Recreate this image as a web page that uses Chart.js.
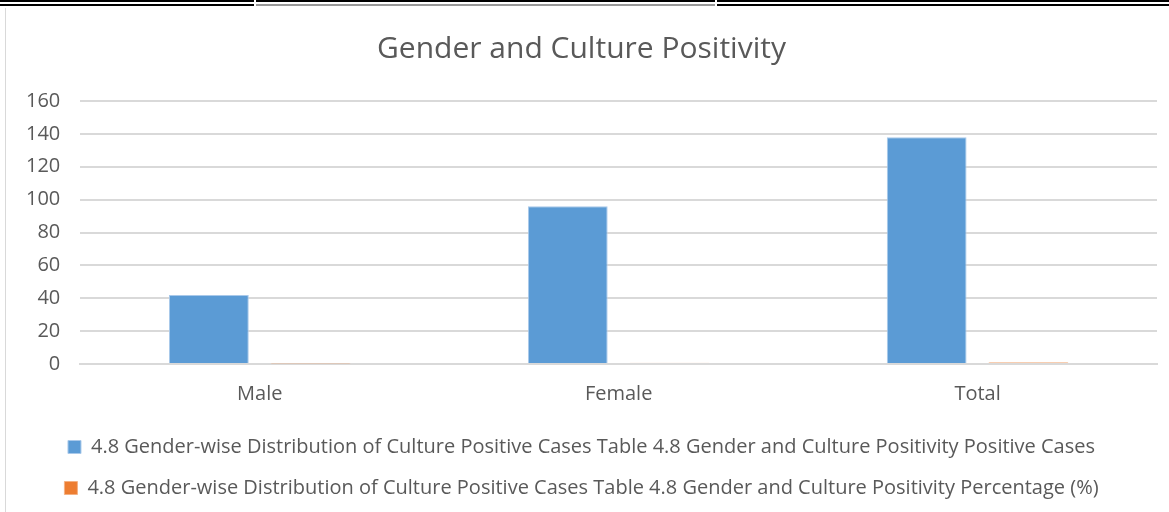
<!DOCTYPE html>
<html>
<head>
<meta charset="utf-8">
<script src="https://cdn.jsdelivr.net/npm/chart.js@4/dist/chart.umd.min.js"></script>
<style>
  html, body { margin: 0; padding: 0; background: #fff; }
  #wrap { position: relative; width: 1169px; height: 512px; overflow: hidden; }
  /* table rules above the chart */
  .rule { position: absolute; height: 2px; background: #000; }
  #leftEdge { position: absolute; left: 5px; top: 8px; width: 1px; height: 504px; background: #d9d9d9; }
  #chartBox { position: absolute; left: 0; top: 0; width: 1169px; height: 512px; }
</style>
</head>
<body>
<div id="wrap">
  <div class="rule" style="left:0;top:0;width:254px"></div>
  <div class="rule" style="left:256px;top:0;width:459px"></div>
  <div class="rule" style="left:717px;top:0;width:452px"></div>
  <div class="rule" style="left:0;top:4px;width:254px"></div>
  <div class="rule" style="left:256px;top:4px;width:459px;background:#999"></div>
  <div class="rule" style="left:717px;top:4px;width:452px"></div>
  <div id="leftEdge"></div>
  <div id="chartBox"><canvas id="genderChart"></canvas></div>
</div>
<script>
// Dados da tabela 4.8
const categories = ['Male', 'Female', 'Total'];
const positiveCases = [42, 96, 138];
const percentage = [0.30, 0.70, 1.00];
const yTicks = [0, 20, 40, 60, 80, 100, 120, 140, 160];

const seriesPositive = '4.8 Gender-wise Distribution of Culture Positive Cases Table 4.8 Gender and Culture Positivity Positive Cases';
const seriesPercent = '4.8 Gender-wise Distribution of Culture Positive Cases Table 4.8 Gender and Culture Positivity Percentage (%)';

Chart.defaults.font.family = "'Open Sans', 'Noto Sans', 'Liberation Sans', Arial";
Chart.defaults.color = '#595959';

const ctx = document.getElementById('genderChart').getContext('2d');
new Chart(ctx, {
    type: 'bar',
    data: {
        labels: categories,
        datasets: [{
            label: seriesPositive,
            data: positiveCases,
            backgroundColor: '#5b9bd5',
            borderColor: '#a9c9ea',
            borderWidth: 1
        }, {
            label: seriesPercent,
            data: percentage,
            backgroundColor: '#ed7d31',
            borderColor: '#f4b183',
            borderWidth: 1
        }]
    },
    options: {
        responsive: true,
        maintainAspectRatio: false,
        animation: false,
        categoryPercentage: 0.567,
        barPercentage: 0.784,
        layout: {
            padding: { left: 6, right: 12, top: 31, bottom: 4 }
        },
        plugins: {
            title: {
                display: true,
                text: 'Gender and Culture Positivity',
                font: { size: 30, weight: 'normal' },
                color: '#595959',
                padding: { top: 0, bottom: 34 }
            },
            legend: {
                position: 'bottom',
                align: 'center',
                labels: {
                    boxWidth: 13,
                    boxHeight: 13,
                    padding: 21,
                    font: { size: 20 },
                    color: '#595959'
                }
            },
            tooltip: { enabled: false }
        },
        scales: {
            x: {
                grid: { display: false },
                border: { color: '#d9d9d9', width: 2 },
                ticks: { font: { size: 20 }, color: '#595959', padding: 10 }
            },
            y: {
                min: 0,
                max: 160,
                afterBuildTicks: axis => {
                    axis.ticks = yTicks.map(v => ({ value: v }));
                },
                grid: { color: '#d9d9d9', lineWidth: 2, drawTicks: false },
                border: { display: false },
                ticks: { font: { size: 20 }, color: '#595959', padding: 20 }
            }
        }
    }
});
</script>
</body>
</html>
